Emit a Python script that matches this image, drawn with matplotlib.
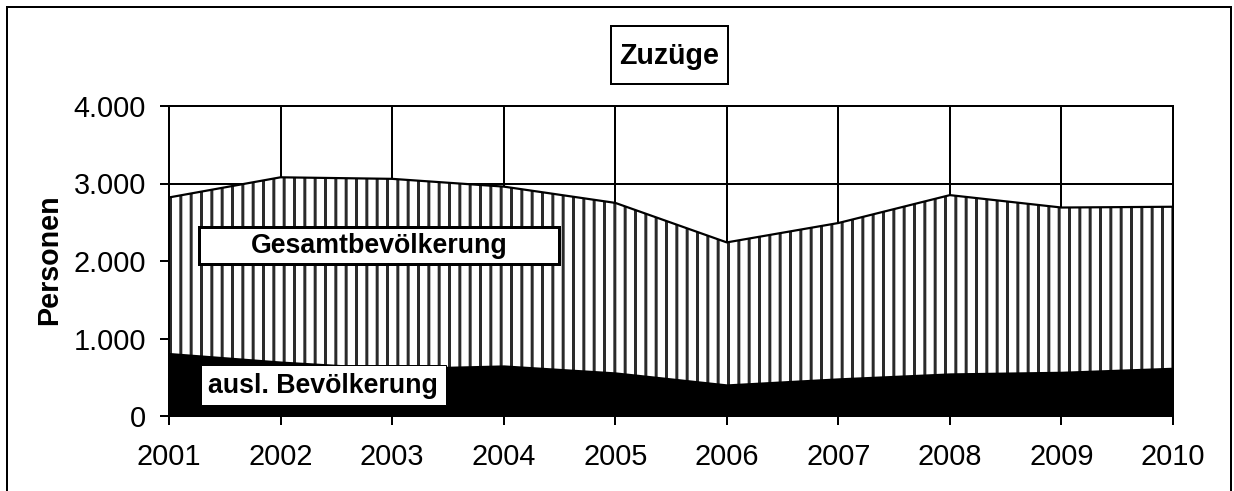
import matplotlib
matplotlib.use("Agg")
import matplotlib.pyplot as plt
from matplotlib.patches import Rectangle
from matplotlib.ticker import FuncFormatter, MultipleLocator

# ---- data ----
years = [2001, 2002, 2003, 2004, 2005, 2006, 2007, 2008, 2009, 2010]
gesamt = [2820, 3080, 3060, 2960, 2750, 2240, 2490, 2850, 2690, 2700]
ausl = [820, 710, 625, 660, 570, 415, 493, 557, 578, 630]
title = "Zuzüge"
label_gesamt = "Gesamtbevölkerung"
label_ausl = "ausl. Bevölkerung"
ylabel = "Personen"

W, H, DPI = 1234, 491, 124
PT = 72.0 / DPI  # points per pixel

plt.rcParams['font.family'] = ['Liberation Sans', 'DejaVu Sans']
plt.rcParams['hatch.linewidth'] = 3.0 * PT
plt.rcParams['hatch.color'] = '#2a2a2a'

fig = plt.figure(figsize=(W / DPI, H / DPI), dpi=DPI)
fig.patch.set_facecolor('white')

def fx(px):
    return px / W

def fy(py):
    return 1 - py / H

ax = fig.add_axes([fx(169), fy(416), fx(1173) - fx(169), fy(106) - fy(416)])
ax.set_xlim(2001, 2010)
ax.set_ylim(0, 4000)

ax.fill_between(years, 0, gesamt, facecolor='white', edgecolor='#2a2a2a',
                hatch='||', linewidth=0, zorder=1)
ax.plot(years, gesamt, color='black', lw=2.2 * PT, zorder=2)
ax.fill_between(years, 0, ausl, facecolor='black', edgecolor='black',
                linewidth=0, zorder=2)

ax.set_axisbelow(True)
ax.grid(True, color='black', lw=2 * PT)
ax.xaxis.set_major_locator(MultipleLocator(1))
ax.yaxis.set_major_locator(MultipleLocator(1000))
ax.xaxis.set_major_formatter(FuncFormatter(lambda v, p: f"{int(v)}"))
ax.yaxis.set_major_formatter(FuncFormatter(lambda v, p: f"{int(v):,}".replace(",", ".")))
for s in ax.spines.values():
    s.set_color('black')
    s.set_linewidth(2 * PT)
    s.set_zorder(3)
ax.tick_params(axis='both', length=9 * PT, width=2 * PT, color='black',
               labelsize=16.8, labelcolor='black')
ax.tick_params(axis='y', pad=14 * PT)
ax.tick_params(axis='x', pad=18 * PT)

fig.text(fx(49), fy(260), ylabel, rotation=90, ha='center', va='center',
         fontsize=16.6, fontweight='bold')

# title box
fig.add_artist(Rectangle((fx(611), fy(84)), fx(728) - fx(611), fy(26) - fy(84),
                         transform=fig.transFigure, facecolor='white',
                         edgecolor='black', lw=2 * PT, zorder=5))
fig.text(fx(669.5), fy(56), title, ha='center', va='center', fontsize=16.6,
         fontweight='bold', zorder=6)

# Gesamt box
fig.add_artist(Rectangle((fx(199), fy(264)), fx(559) - fx(199), fy(227) - fy(264),
                         transform=fig.transFigure, facecolor='white',
                         edgecolor='black', lw=3 * PT, zorder=5))
fig.text(fx(379), fy(246), label_gesamt, ha='center', va='center', fontsize=15.5,
         fontweight='bold', zorder=6)

# ausl box
fig.add_artist(Rectangle((fx(201), fy(405)), fx(446) - fx(201), fy(365) - fy(405),
                         transform=fig.transFigure, facecolor='white',
                         edgecolor='black', lw=1 * PT, zorder=5))
fig.text(fx(323), fy(386), label_ausl, ha='center', va='center', fontsize=15.5,
         fontweight='bold', zorder=6)

# outer frame
fig.add_artist(Rectangle((fx(7), fy(520)), fx(1231) - fx(7), fy(7) - fy(520),
                         transform=fig.transFigure, facecolor='none',
                         edgecolor='black', lw=2 * PT, zorder=10, clip_on=False))

fig.savefig("out.png", dpi=DPI, facecolor='white')
